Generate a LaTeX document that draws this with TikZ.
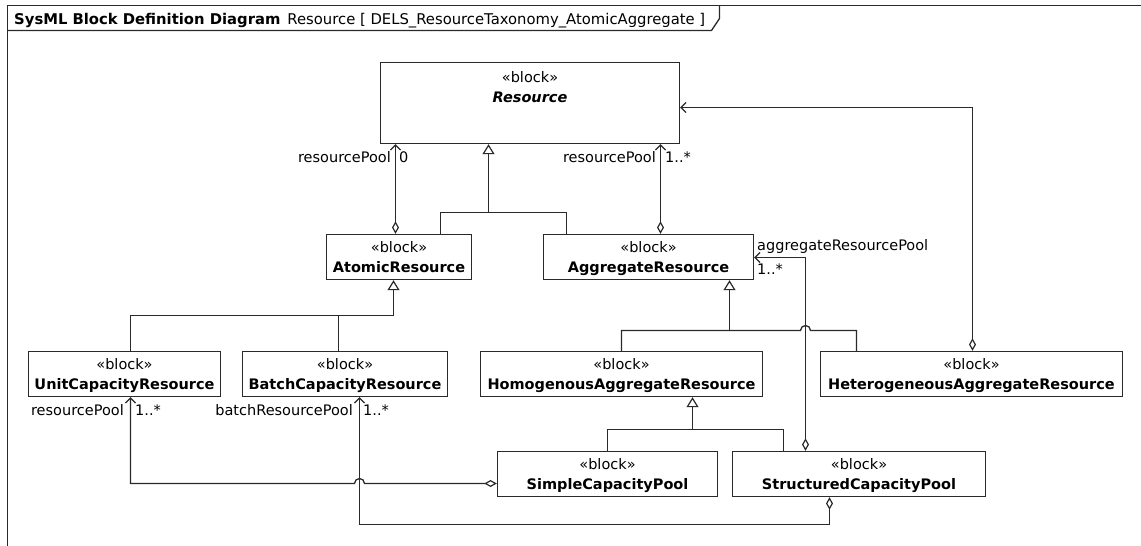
\documentclass[tikz,border=0pt]{standalone}
\usepackage{fontspec}
\setmainfont{DejaVu Sans}
\usetikzlibrary{arrows.meta}
\definecolor{ink}{HTML}{2A2A2A}

\begin{document}
\begin{tikzpicture}[x=1pt,y=-1pt,
  every node/.style={font=\fontsize{14.5}{18}\selectfont, text=black, inner sep=0pt},
  blk/.style={draw=ink, line width=1.4pt, fill=white, rectangle, minimum height=45pt},
  stereo/.style={anchor=base},
  bname/.style={anchor=base, font=\fontsize{14.5}{18}\selectfont\bfseries},
  role/.style={anchor=base east},
  mult/.style={anchor=base west},
  conn/.style={draw=ink, line width=1.3pt},
  aggr/.style={conn, {Diamond[open,length=12.5pt,width=7pt,line width=1.2pt]}-{Straight Barb[length=5pt,width=10pt,line width=1.2pt]}},
  gen/.style={conn, -{Triangle[length=10pt,width=12pt,fill=white,line width=1.2pt]}},
  hdr/.style={font=\fontsize{14.8}{16}\selectfont, anchor=base west}
]
\useasboundingbox (0,0) rectangle (1141,546);

% diagram frame and heading tab
\draw[ink, line width=1.3pt] (7.5,548) -- (7.5,5.5) -- (1143,5.5);
\draw[ink, line width=1.3pt] (7.5,30.5) -- (711.5,30.5) -- (719.5,18.5) -- (719.5,5.5);
\node[hdr] (title) at (14,24.5) {\textbf{SysML Block Definition Diagram}\hspace{7pt}Resource [ DELS\_ResourceTaxonomy\_AtomicAggregate ]};

% blocks
\node[blk, minimum width=299pt, minimum height=81pt] (resource) at (530,103) {};
\node[blk, minimum width=145pt] (atomic)    at (399,257) {};
\node[blk, minimum width=210pt] (aggregate) at (648.5,257) {};
\node[blk, minimum width=192pt] (unit)      at (124.5,374) {};
\node[blk, minimum width=205pt] (batch)     at (345,374) {};
\node[blk, minimum width=282pt] (homog)     at (621.5,374) {};
\node[blk, minimum width=302pt] (hetero)    at (971.5,374) {};
\node[blk, minimum width=220pt] (simple)    at (607.5,474) {};
\node[blk, minimum width=253pt] (struct)    at (859,474) {};

% block compartments: stereotype and name
\node[stereo] (resource-s) at ([yshift=-20.5pt]resource.north) {«block»};
\node[bname, font=\fontsize{14.5}{18}\selectfont\bfseries\itshape] (resource-n) at ([yshift=-41pt]resource.north) {Resource};
\foreach \b/\t in {atomic/AtomicResource, aggregate/AggregateResource,
                   unit/UnitCapacityResource, batch/BatchCapacityResource,
                   homog/HomogenousAggregateResource, hetero/HeterogeneousAggregateResource,
                   simple/SimpleCapacityPool, struct/StructuredCapacityPool}{
  \node[stereo] (\b-s) at ([yshift=-18.5pt]\b.north) {«block»};
  \node[bname] (\b-n) at ([yshift=-39pt]\b.north) {\t};
}

% generalizations
\coordinate (g1) at (488.5,212.5);
\draw[conn] ([xshift=41.5pt]atomic.north) |- (g1) -| ([xshift=-82pt]aggregate.north);
\draw[gen] (g1) -- (g1 |- resource.south);

\coordinate (g2) at (393.5,315.5);
\draw[conn] ([xshift=6pt]unit.north) |- (g2);
\draw[conn] ([xshift=-6.5pt]batch.north) -- ([xshift=-6.5pt]batch.north |- g2);
\draw[gen] (g2) -- (g2 |- atomic.south);

\coordinate (g3) at (729.5,330.5);
\coordinate (sv) at ([xshift=-53.5pt]struct.north);
\coordinate (hop1) at (sv |- g3);
\draw[conn] (homog.north) |- (g3) -- ([xshift=-5pt]hop1)
  arc[start angle=180, end angle=0, radius=5pt] -| ([xshift=-115pt]hetero.north);
\draw[gen] (g3) -- (g3 |- aggregate.south);

\coordinate (g4) at (692.5,429.5);
\draw[conn] (simple.north) |- (g4) -| ([xshift=-75.5pt]struct.north);
\draw[gen] (g4) -- (g4 |- homog.south);

% shared aggregations
\draw[aggr] ([xshift=-3.5pt]atomic.north) -- ([xshift=-3.5pt]atomic.north |- resource.south);
\draw[aggr] ([xshift=12pt]aggregate.north) -- ([xshift=12pt]aggregate.north |- resource.south);
\draw[aggr] ([xshift=1pt]hetero.north) |- ([yshift=-4.5pt]resource.east);
\draw[aggr] (sv) |- ([yshift=-0.5pt]aggregate.east);

\coordinate (sw) at ([yshift=-9.5pt]simple.west);
\coordinate (bs) at ([xshift=14.5pt]batch.south);
\coordinate (hop2) at (bs |- sw);
\draw[aggr] (sw) -- ([xshift=5pt]hop2) arc[start angle=0, end angle=180, radius=5pt]
  -| ([xshift=6pt]unit.south);

\coordinate (sb) at ([xshift=-29.5pt]struct.south);
\coordinate (low) at (0,524.5);
\draw[aggr] (sb) |- (bs |- low) -- (bs);

% association end labels
\node[role] (r1) at (391,162) {resourcePool};
\node[mult] (m1) at (399,162) {0};
\node[role] (r2) at (656,162) {resourcePool};
\node[mult] (m2) at (665,162) {1..*};
\node[role] (r3) at (124,415.5) {resourcePool};
\node[mult] (m3) at (135,415.5) {1..*};
\node[role] (r4) at (353,415.5) {batchResourcePool};
\node[mult] (m4) at (363,415.5) {1..*};
\node[mult] (r5) at (757,250.7) {aggregateResourcePool};
\node[mult] (m5) at (757,274) {1..*};
\end{tikzpicture}
\end{document}
